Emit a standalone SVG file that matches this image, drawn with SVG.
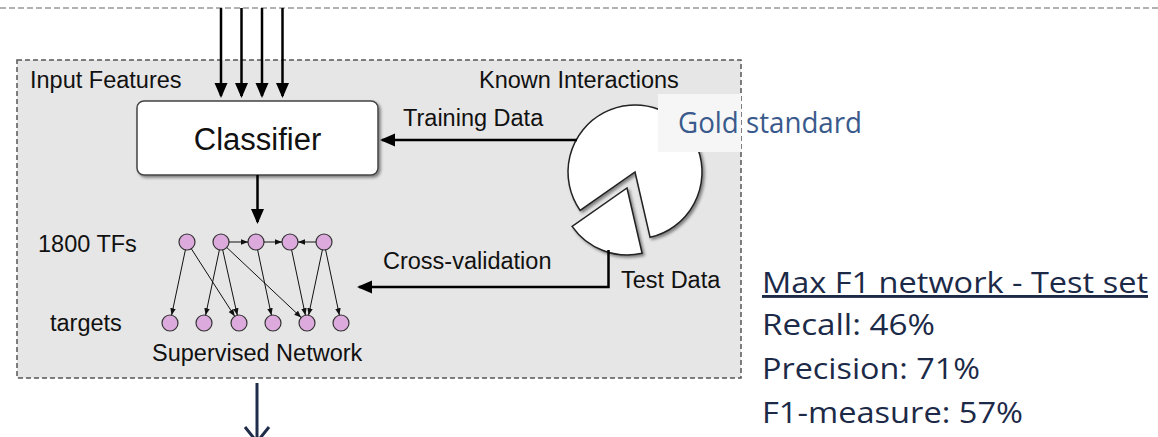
<svg xmlns="http://www.w3.org/2000/svg" width="1158" height="437" viewBox="0 0 1158 437">
<style>
.lbl{font-family:"Liberation Sans",Arial,sans-serif;font-size:23.5px;fill:#111}
.cal{font-family:"Open Sans","Noto Sans",sans-serif;font-size:29px}
.big{stroke:#000;stroke-width:2.5;fill:none}
.thin{stroke:#111;stroke-width:1;fill:none}
.tf{fill:#dcaadc;stroke:#333;stroke-width:1.2}
</style>
<defs>
<marker id="ah" markerUnits="userSpaceOnUse" markerWidth="16" markerHeight="14" refX="13" refY="6.5" orient="auto"><path d="M0,0 L15,6.5 L0,13 z" fill="#000"/></marker>
<marker id="ahs" markerUnits="userSpaceOnUse" markerWidth="8" markerHeight="6" refX="7" refY="2.75" orient="auto"><path d="M0,0 L7,2.75 L0,5.5 z" fill="#111"/></marker>
<filter id="sh" x="-20%" y="-20%" width="140%" height="140%"><feDropShadow dx="2" dy="2" stdDeviation="1.8" flood-color="#000" flood-opacity="0.45"/></filter>
</defs>
<rect width="1158" height="437" fill="#fff"/>
<line x1="0" y1="8" x2="1158" y2="8" stroke="#999" stroke-width="1.5" stroke-dasharray="6 3"/>
<g id="panel">
<rect x="17" y="60" width="724" height="318" fill="#e6e6e6" stroke="#555" stroke-width="1.5" stroke-dasharray="5 3"/>
<text class="lbl" x="30" y="88">Input Features</text>
<text class="lbl" x="479" y="88">Known Interactions</text>
</g>
<g id="classifier">
<rect x="137" y="101" width="241" height="74" rx="7" fill="#fff" stroke="#444" stroke-width="1.5" filter="url(#sh)"/>
<text x="257.5" y="150" text-anchor="middle" style="font-family:'Liberation Sans',Arial,sans-serif;font-size:31px;fill:#111">Classifier</text>
</g>
<g id="gold-standard">
<path d="M635,172 L650.1,237.3 A67,67 0 1 0 580.1,210.4 Z" fill="#fff" stroke="#222" stroke-width="1.5" filter="url(#sh)"/>
<path d="M627,188 L642.1,253.3 A67,67 0 0 1 572.1,226.4 Z" fill="#fff" stroke="#222" stroke-width="1.5" filter="url(#sh)"/>
<rect x="658" y="94" width="83" height="58" fill="#f6f6f6"/>
<text class="cal" x="678" y="133" fill="#3a5a8c" textLength="184" lengthAdjust="spacingAndGlyphs">Gold standard</text>
<text class="lbl" x="621" y="288">Test Data</text>
</g>
<g id="network">
<text class="lbl" x="38" y="252">1800 TFs</text>
<text class="lbl" x="50" y="331">targets</text>
<text class="lbl" x="152" y="361">Supervised Network</text>
<g id="tf-nodes">
<circle class="tf" cx="187" cy="242" r="8"/>
<circle class="tf" cx="221" cy="242" r="8"/>
<circle class="tf" cx="256" cy="242" r="8"/>
<circle class="tf" cx="290" cy="242" r="8"/>
<circle class="tf" cx="324" cy="242" r="8"/>
</g>
<g id="target-nodes">
<circle class="tf" cx="170" cy="323" r="8"/>
<circle class="tf" cx="204" cy="323" r="8"/>
<circle class="tf" cx="239" cy="323" r="8"/>
<circle class="tf" cx="273" cy="323" r="8"/>
<circle class="tf" cx="307" cy="323" r="8"/>
<circle class="tf" cx="341" cy="323" r="8"/>
</g>
<g id="network-edges">
<line class="thin" x1="185.4" y1="249.8" x2="171.6" y2="315.2" marker-end="url(#ahs)"/>
<line class="thin" x1="191.3" y1="248.7" x2="234.7" y2="316.3" marker-end="url(#ahs)"/>
<line class="thin" x1="219.4" y1="249.8" x2="205.6" y2="315.2" marker-end="url(#ahs)"/>
<line class="thin" x1="222.7" y1="249.8" x2="237.3" y2="315.2" marker-end="url(#ahs)"/>
<line class="thin" x1="226.8" y1="247.5" x2="301.2" y2="317.5" marker-end="url(#ahs)"/>
<line class="thin" x1="257.6" y1="249.8" x2="271.4" y2="315.2" marker-end="url(#ahs)"/>
<line class="thin" x1="291.6" y1="249.8" x2="305.4" y2="315.2" marker-end="url(#ahs)"/>
<line class="thin" x1="322.4" y1="249.8" x2="308.6" y2="315.2" marker-end="url(#ahs)"/>
<line class="thin" x1="325.6" y1="249.8" x2="339.4" y2="315.2" marker-end="url(#ahs)"/>
<line class="thin" x1="229" y1="242" x2="248" y2="242" marker-end="url(#ahs)"/>
<line class="thin" x1="264" y1="242" x2="282" y2="242" marker-end="url(#ahs)"/>
<line class="thin" x1="316" y1="242" x2="298" y2="242" marker-end="url(#ahs)"/>
</g>
</g>
<g id="connectors">
<line class="big" x1="221" y1="8" x2="221" y2="96" marker-end="url(#ah)"/>
<line class="big" x1="241.5" y1="8" x2="241.5" y2="96" marker-end="url(#ah)"/>
<line class="big" x1="262" y1="8" x2="262" y2="96" marker-end="url(#ah)"/>
<line class="big" x1="282.5" y1="8" x2="282.5" y2="96" marker-end="url(#ah)"/>
<line class="big" x1="257.5" y1="175" x2="257.5" y2="222" stroke-width="3" marker-end="url(#ah)"/>
<line class="big" x1="577" y1="140" x2="382" y2="140" marker-end="url(#ah)"/>
<text class="lbl" x="403" y="126">Training Data</text>
<polyline class="big" points="608.5,250 608.5,287 359,287" marker-end="url(#ah)"/>
<text class="lbl" x="383" y="269">Cross-validation</text>
<line x1="257" y1="383" x2="257" y2="440" stroke="#1f2d4a" stroke-width="3"/>
<polyline points="245,427 257,442 269,427" fill="none" stroke="#1f2d4a" stroke-width="3"/>
</g>
<g id="metrics" fill="#1c2a48">
<text class="cal" x="762" y="293" textLength="386" lengthAdjust="spacingAndGlyphs" style="text-decoration:underline">Max F1 network - Test set</text>
<text class="cal" x="762" y="335" textLength="173" lengthAdjust="spacingAndGlyphs">Recall: 46%</text>
<text class="cal" x="762" y="379" textLength="218" lengthAdjust="spacingAndGlyphs">Precision: 71%</text>
<text class="cal" x="762" y="423" textLength="261" lengthAdjust="spacingAndGlyphs">F1-measure: 57%</text>
</g>
</svg>
